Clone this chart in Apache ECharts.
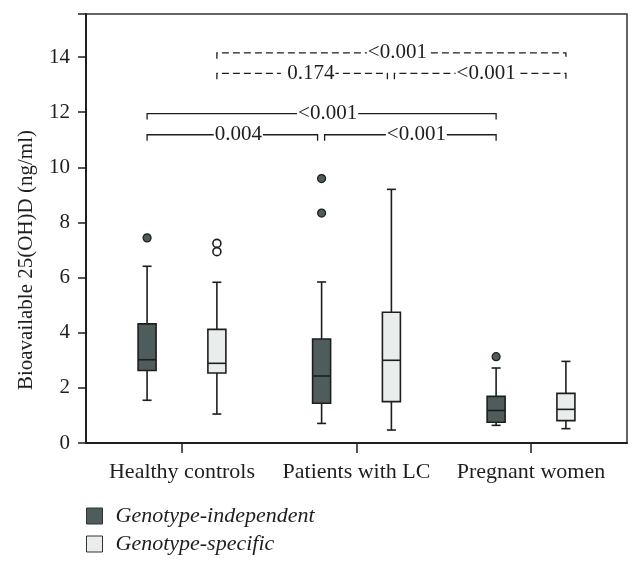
<!DOCTYPE html>
<html><head><meta charset="utf-8">
<script src="https://cdn.jsdelivr.net/npm/echarts@6/dist/echarts.min.js"></script>
<style>html,body{margin:0;padding:0;background:#fff}#c{width:642px;height:569px}</style>
</head><body><div id="c"></div>
<script>
const categories = ['Healthy controls', 'Patients with LC', 'Pregnant women'];
const seriesNames = ['Genotype-independent', 'Genotype-specific'];
// [min, Q1, median, Q3, max]
const independentBoxes = [[1.55, 2.63, 3.02, 4.32, 6.41], [0.71, 1.44, 2.43, 3.77, 5.84], [0.64, 0.75, 1.18, 1.69, 2.72]];
const specificBoxes = [[1.05, 2.54, 2.89, 4.12, 5.83], [0.47, 1.50, 3.00, 4.74, 9.20], [0.52, 0.81, 1.22, 1.80, 2.96]];
// [category index, value]
const independentOutliers = [[0, 7.44], [1, 9.59], [1, 8.34], [2, 3.13]];
const specificOutliers = [[0, 7.24], [0, 6.94]];
const yTicks = [0, 2, 4, 6, 8, 10, 12, 14];
const yTitle = 'Bioavailable 25(OH)D (ng/ml)';
// comparisons: [series index, category A, category B, bracket height, p label]
const comparisons = [
  [0, 0, 1, 11.18, '0.004'],
  [0, 1, 2, 11.18, '<0.001'],
  [0, 0, 2, 11.95, '<0.001'],
  [1, 0, 1, 13.41, ' 0.174'],
  [1, 1, 2, 13.41, '<0.001'],
  [1, 0, 2, 14.15, '<0.001']
];

const FONT = 'Liberation Serif';
const INK = '#1e1e1e';
const DARK = '#4e5c5b';
const LIGHT = '#e9edec';
const OFFSET = 0.2;
const xOf = (cat, s) => cat + 1 + (s === 0 ? -OFFSET : OFFSET);

function boxData(arr, s) { return arr.map((b, i) => [xOf(i, s)].concat(b)); }
function outlierData(arr, s) { return arr.map(o => [xOf(o[0], s), o[1]]); }

function renderBox(params, api) {
  const x = api.value(0);
  const p = [1, 2, 3, 4, 5].map(i => api.coord([x, api.value(i)]));
  const cx = p[0][0];
  const w = 18, cap = 9;
  const yMin = p[0][1], yQ1 = p[1][1], yMed = p[2][1], yQ3 = p[3][1], yMax = p[4][1];
  const st = { stroke: INK, lineWidth: 1.6, fill: null };
  return { type: 'group', children: [
    { type: 'line', shape: { x1: cx, y1: yMax, x2: cx, y2: yQ3 }, style: st },
    { type: 'line', shape: { x1: cx, y1: yQ1, x2: cx, y2: yMin }, style: st },
    { type: 'line', shape: { x1: cx - cap / 2, y1: yMax, x2: cx + cap / 2, y2: yMax }, style: st },
    { type: 'line', shape: { x1: cx - cap / 2, y1: yMin, x2: cx + cap / 2, y2: yMin }, style: st },
    { type: 'rect', shape: { x: cx - w / 2, y: yQ3, width: w, height: yQ1 - yQ3 }, style: { fill: api.visual('color'), stroke: INK, lineWidth: 1.6 } },
    { type: 'line', shape: { x1: cx - w / 2, y1: yMed, x2: cx + w / 2, y2: yMed }, style: st }
  ] };
}

const bracketData = comparisons.map(c => [xOf(c[1], c[0]), xOf(c[2], c[0]), c[3], c[0], c[2] - c[1]]);
function renderBracket(params, api) {
  const c = comparisons[params.dataIndex];
  const a = api.coord([api.value(0), api.value(2)]);
  const b = api.coord([api.value(1), api.value(2)]);
  const dashed = api.value(3) === 1;
  const adjacent = api.value(4) === 1;
  let x1 = a[0], x2 = b[0];
  const y = a[1];
  if (adjacent) {
    if (c[1] === 1) x1 += 3; else x2 -= 4;
  }
  const tick = 6;
  const st = { stroke: INK, lineWidth: 1.3, fill: null, lineDash: dashed ? [7, 4] : null };
  const mid = (x1 + x2) / 2 + 6;
  return { type: 'group', children: [
    { type: 'polyline', shape: { points: [[x1, y + tick], [x1, y], [x2, y], [x2, y + tick]] }, style: st },
    { type: 'text', x: mid, y: y, style: { text: c[4], font: '21px "' + FONT + '"', fill: INK, align: 'center', verticalAlign: 'middle', backgroundColor: '#fff', padding: [0, 1] } }
  ] };
}

const chart = echarts.init(document.getElementById('c'));
chart.setOption({
  animation: false,
  backgroundColor: '#fff',
  grid: { left: 86, right: 15, top: 14, bottom: 126, show: true, borderColor: '#333', borderWidth: 1.5, backgroundColor: 'transparent' },
  graphic: [{
    type: 'text', left: 16, top: 130, rotation: Math.PI / 2,
    style: { text: yTitle, font: '21px "' + FONT + '"', fill: INK }
  }],
  legend: {
    orient: 'vertical', left: 81, top: 500, itemWidth: 16, itemHeight: 16, itemGap: 6,
    textStyle: { fontFamily: FONT, fontStyle: 'italic', fontSize: 22, color: INK, lineHeight: 22, padding: [0, 0, 0, 8] },
    data: [
      { name: seriesNames[0], icon: 'rect', itemStyle: { color: DARK, borderColor: '#333', borderWidth: 1 } },
      { name: seriesNames[1], icon: 'rect', itemStyle: { color: LIGHT, borderColor: '#333', borderWidth: 1 } }
    ]
  },
  xAxis: {
    type: 'value', min: 0.45, max: 3.55,
    axisLine: { lineStyle: { color: INK, width: 2 } },
    axisTick: { show: true, customValues: [1, 2, 3], length: 10, lineStyle: { color: INK, width: 1.5 } },
    axisLabel: { customValues: [1, 2, 3], formatter: v => categories[Math.round(v) - 1], fontFamily: FONT, fontSize: 22, color: INK, margin: 18 },
    splitLine: { show: false }
  },
  yAxis: {
    type: 'value', min: 0, max: 15.56, interval: 2,
    axisLine: { show: true, lineStyle: { color: INK, width: 2 } },
    axisTick: { show: true, length: 8, lineStyle: { color: INK, width: 1.5 } },
    axisLabel: { fontFamily: FONT, fontSize: 21, color: INK, margin: 16, formatter: v => yTicks.indexOf(v) >= 0 ? String(v) : '' },
    splitLine: { show: false }
  },
  series: [
    { name: seriesNames[0], type: 'custom', renderItem: renderBox, itemStyle: { color: DARK }, data: boxData(independentBoxes, 0), encode: { x: 0, y: [1, 2, 3, 4, 5] }, z: 2 },
    { name: seriesNames[1], type: 'custom', renderItem: renderBox, itemStyle: { color: LIGHT }, data: boxData(specificBoxes, 1), encode: { x: 0, y: [1, 2, 3, 4, 5] }, z: 2 },
    { name: seriesNames[0], type: 'scatter', symbol: 'circle', symbolSize: 8, itemStyle: { color: DARK, borderColor: INK, borderWidth: 1.2, opacity: 1 }, data: outlierData(independentOutliers, 0), z: 3 },
    { name: seriesNames[1], type: 'scatter', symbol: 'circle', symbolSize: 8, itemStyle: { color: '#fff', borderColor: INK, borderWidth: 1.6, opacity: 1 }, data: outlierData(specificOutliers, 1), z: 3 },
    { name: 'brackets', type: 'custom', renderItem: renderBracket, data: bracketData, encode: { x: [0, 1], y: 2 }, z: 4, silent: true }
  ]
});
</script>
</body></html>
